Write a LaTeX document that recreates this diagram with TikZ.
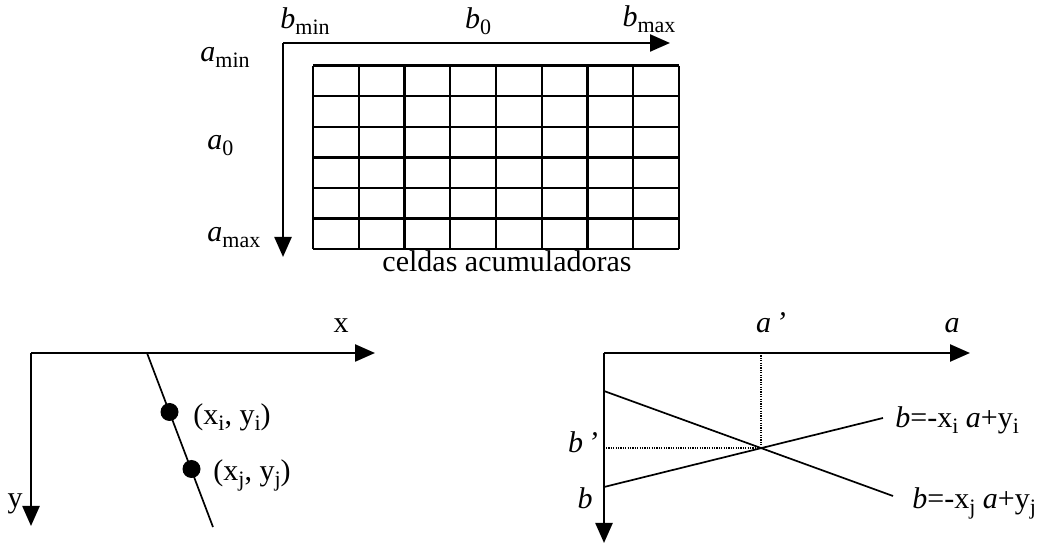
\documentclass[tikz,border=0pt]{standalone}
\usepackage{fontspec}
\setmainfont{Liberation Serif}
\usetikzlibrary{arrows.meta}
\newcommand{\lbsub}[1]{\raisebox{-0.2em}{\fontsize{11}{12}\selectfont #1}}
\tikzset{
  axis/.style={line width=1.2pt,-{Triangle[length=10pt,width=8.5pt]}},
  gridline/.style={line width=1.2pt},
  thinline/.style={line width=0.85pt},
  dotline/.style={line width=0.6pt,dash pattern=on 0.6pt off 0.6pt},
  lab/.style={inner sep=0pt,font=\fontsize{15}{18}\selectfont},
  dot/.style={circle,fill=black,inner sep=0pt,minimum size=9pt}
}
\begin{document}
\begin{tikzpicture}[x=0.5pt,y=-0.5pt]
\useasboundingbox (0,0) rectangle (1038,544);
% ---------- top: accumulator cells ----------
\coordinate (O1) at (283,43);
\coordinate (B1) at (670,43);
\coordinate (A1) at (283,257);
\draw[axis] (O1) -- (B1);
\draw[axis] (O1) -- (A1);
\foreach \i in {0,...,8} {
  \draw[gridline] ({313+45.75*\i},65.7) -- ({313+45.75*\i},249.3);
}
\foreach \j in {0,...,6} {
  \draw[gridline] (313,{65.7+30.6*\j}) -- (679,{65.7+30.6*\j});
}
\node[lab,anchor=base] (bmin) at (305,29) {\textit{b}\lbsub{min}};
\node[lab,anchor=base] (b0) at (478,29) {\textit{b}\lbsub{0}};
\node[lab,anchor=base] (bmax) at (649,27) {\textit{b}\lbsub{max}};
\node[lab,anchor=base west] (amin) at (200,62) {\textit{a}\lbsub{min}};
\node[lab,anchor=base west] (a0) at (207,150) {\textit{a}\lbsub{0}};
\node[lab,anchor=base west] (amax) at (207,242) {\textit{a}\lbsub{max}};
\node[lab,anchor=base,font=\fontsize{15}{18}\selectfont] (celdas) at (507,272) {celdas acumuladoras};
% ---------- bottom left: image space ----------
\coordinate (O2) at (31,353);
\coordinate (X2) at (375,353);
\coordinate (Y2) at (31,526);
\draw[axis] (O2) -- (X2);
\draw[axis] (O2) -- (Y2);
\coordinate (L0) at (147,353);
\coordinate (L1) at (213,527);
\draw[thinline] (L0) -- (L1);
\node[dot] (pi) at (169.5,412) {};
\node[dot] (pj) at (191.5,469) {};
\node[lab,anchor=base] (xl) at (341,333) {x};
\node[lab,anchor=base] (yl) at (15,508) {y};
\node[lab,anchor=west] (pil) at (193,417) {(x\lbsub{i}, y\lbsub{i})};
\node[lab,anchor=west] (pjl) at (213,475) {(x\lbsub{j}, y\lbsub{j})};
% ---------- bottom right: parameter space ----------
\coordinate (O3) at (604,353);
\coordinate (A3) at (970,353);
\coordinate (B3) at (604,543);
\draw[axis] (O3) -- (A3);
\draw[axis] (O3) -- (B3);
\coordinate (Li0) at (604,391);
\coordinate (Li1) at (893,496);
\coordinate (Lj0) at (604,487);
\coordinate (Lj1) at (883,418);
\draw[thinline] (Li0) -- (Li1);
\draw[thinline] (Lj0) -- (Lj1);
\coordinate (P) at (761,448);
\coordinate (Pa) at (761,353);
\coordinate (Pb) at (606,448);
\draw[dotline] (Pa) -- (P);
\draw[dotline] (Pb) -- (P);
\node[lab,anchor=base] (ap) at (771,333) {\textit{a\,'}};
\node[lab,anchor=base] (al) at (952,333) {\textit{a}};
\node[lab,anchor=base] (bp) at (583,453) {\textit{b\,'}};
\node[lab,anchor=base] (bl) at (585,509) {\textit{b}};
\node[lab,anchor=west] (eqi) at (895,420) {\textit{b}=-x\lbsub{i} \textit{a}+y\lbsub{i}};
\node[lab,anchor=west] (eqj) at (912,503) {\textit{b}=-x\lbsub{j} \textit{a}+y\lbsub{j}};
\end{tikzpicture}
\end{document}
